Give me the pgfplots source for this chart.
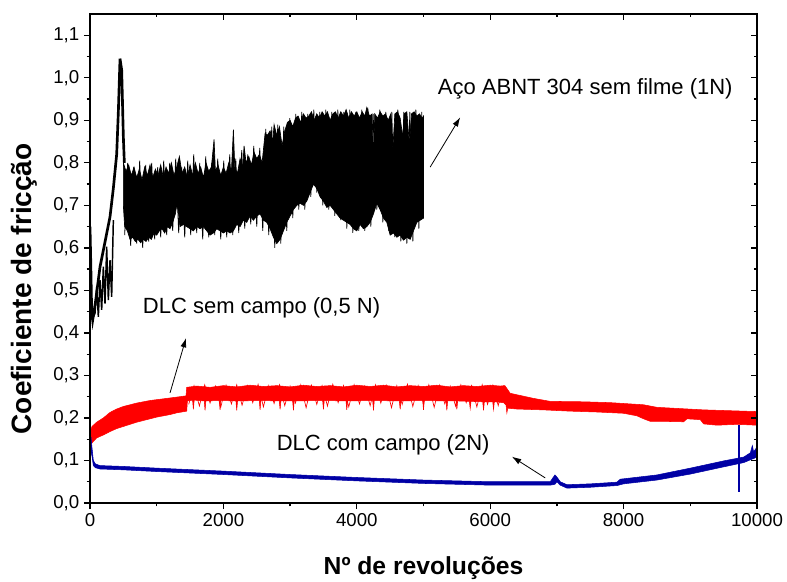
\documentclass[border=0pt]{standalone}
\usepackage{fontspec}
\setmainfont{Liberation Sans}
\usepackage{pgfplots}
\pgfplotsset{compat=1.18}
\usetikzlibrary{arrows.meta}
\definecolor{dlcred}{RGB}{255,0,0}
\definecolor{dlcblue}{RGB}{0,0,165}

\pgfplotsset{
  frame/.style={
    width=500.25pt, height=366.75pt, scale only axis,
    xmin=0, xmax=10000, ymin=0, ymax=1.15,
    scaled x ticks=false, scaled y ticks=false,
    xtick={0,2000,4000,6000,8000,10000},
    ytick={0,0.1,0.2,0.3,0.4,0.5,0.6,0.7,0.8,0.9,1.0,1.1},
    minor x tick num=1, minor y tick num=1,
    axis line style={line width=1.2pt},
    every tick/.style={black, line width=1pt},
    major tick length=4.5pt, minor tick length=2.5pt,
  },
}

\begin{document}
\begin{tikzpicture}
\useasboundingbox (-67.5pt,-58.5pt) rectangle (522.75pt,377.25pt);

\begin{axis}[frame,
    tick align=outside,
    xtick pos=left, ytick pos=left,
    ticklabel style={font=\fontsize{14}{16}\selectfont},
    /pgf/number format/assume math mode=true,
    xticklabel style={/pgf/number format/1000 sep={}},
    yticklabel style={/pgf/number format/.cd, fixed, fixed zerofill, precision=1, use comma},
    xlabel={Nº de revoluções},
    ylabel={Coeficiente de fricção},
    xlabel style={font=\fontsize{18.5}{21}\selectfont\bfseries, at={(axis description cs:0.5,-0.133)}, anchor=center},
    ylabel style={font=\fontsize{21}{24}\selectfont\bfseries, at={(axis description cs:-0.099,0.438)}, anchor=center},
]
% aço sem filme: subida inicial
\addplot[black, line width=2pt] coordinates {
(0,0.65)(12,0.56)(25,0.45)(40,0.43)(80,0.47)(150,0.555)(220,0.61)(300,0.673)(350,0.74)(400,0.82)(425,0.92)(450,1.045)(475,1.018)(500,0.861)(515,0.80)};
\addplot[black, line width=1.1pt] coordinates {
(30,0.43)(75,0.446)(100,0.508)(125,0.438)(150,0.524)(175,0.454)(200,0.556)(225,0.469)(250,0.603)(275,0.477)(300,0.571)(325,0.485)(350,0.665)};
% aço sem filme: faixa de oscilação
\addplot[black, fill=black, line width=0.5pt] coordinates {
(500,0.80)(540,0.78)(580,0.795)(620,0.77)(660,0.79)(700,0.765)(740,0.785)(780,0.76)(820,0.79)(860,0.77)(900,0.795)(940,0.765)(980,0.785)(1020,0.77)(1060,0.795)(1100,0.765)(1140,0.79)(1180,0.775)(1220,0.80)(1260,0.77)(1300,0.79)(1340,0.815)(1380,0.775)(1420,0.79)(1460,0.765)(1500,0.795)(1540,0.77)(1580,0.80)(1620,0.775)(1660,0.79)(1700,0.765)(1740,0.80)(1780,0.78)(1820,0.79)(1860,0.855)(1880,0.78)(1920,0.795)(1960,0.77)(2000,0.79)(2040,0.775)(2080,0.80)(2120,0.78)(2150,0.878)(2170,0.79)(2210,0.775)(2250,0.81)(2290,0.79)(2310,0.84)(2340,0.80)(2380,0.815)(2420,0.795)(2460,0.825)(2500,0.81)(2540,0.82)(2580,0.80)(2625,0.869)(2660,0.865)(2700,0.875)(2740,0.85)(2760,0.89)(2800,0.865)(2840,0.885)(2880,0.84)(2920,0.875)(2960,0.895)(3000,0.90)(3040,0.885)(3080,0.905)(3120,0.91)(3160,0.895)(3200,0.915)(3240,0.905)(3280,0.91)(3320,0.92)(3360,0.90)(3400,0.915)(3440,0.905)(3480,0.92)(3520,0.91)(3560,0.92)(3600,0.90)(3640,0.915)(3680,0.92)(3720,0.905)(3760,0.92)(3800,0.91)(3840,0.925)(3880,0.905)(3920,0.92)(3960,0.91)(4000,0.92)(4040,0.905)(4080,0.92)(4120,0.91)(4150,0.93)(4190,0.91)(4230,0.915)(4250,0.80)(4270,0.915)(4310,0.905)(4350,0.92)(4390,0.91)(4430,0.915)(4470,0.90)(4510,0.915)(4540,0.83)(4570,0.915)(4610,0.92)(4650,0.905)(4690,0.86)(4710,0.915)(4750,0.92)(4790,0.84)(4820,0.915)(4860,0.92)(4900,0.91)(4940,0.915)(4980,0.905)(5000,0.91)
(5000,0.67)(4950,0.665)(4900,0.66)(4850,0.64)(4800,0.62)(4750,0.625)(4700,0.618)(4650,0.63)(4600,0.625)(4550,0.635)(4500,0.63)(4450,0.66)(4400,0.67)(4350,0.69)(4300,0.705)(4250,0.68)(4200,0.66)(4150,0.65)(4100,0.645)(4050,0.655)(4000,0.64)(3950,0.645)(3900,0.655)(3850,0.66)(3800,0.665)(3750,0.67)(3700,0.68)(3650,0.69)(3600,0.70)(3550,0.695)(3500,0.71)(3450,0.72)(3400,0.74)(3350,0.75)(3300,0.73)(3250,0.71)(3200,0.70)(3150,0.705)(3100,0.70)(3050,0.69)(3000,0.675)(2950,0.66)(2900,0.64)(2850,0.62)(2800,0.61)(2750,0.625)(2700,0.645)(2650,0.66)(2600,0.665)(2550,0.68)(2500,0.675)(2450,0.665)(2400,0.675)(2350,0.66)(2300,0.665)(2250,0.65)(2200,0.655)(2150,0.64)(2100,0.635)(2050,0.64)(2000,0.635)(1950,0.64)(1900,0.645)(1850,0.635)(1800,0.63)(1750,0.64)(1700,0.65)(1650,0.645)(1600,0.65)(1550,0.64)(1500,0.645)(1450,0.65)(1400,0.655)(1350,0.65)(1320,0.69)(1300,0.70)(1280,0.68)(1240,0.66)(1200,0.645)(1160,0.65)(1120,0.635)(1080,0.645)(1040,0.64)(1000,0.63)(960,0.635)(920,0.62)(880,0.625)(840,0.615)(800,0.62)(760,0.612)(720,0.62)(680,0.615)(640,0.625)(600,0.62)(560,0.64)(520,0.65)(500,0.70)
} -- cycle;
% picos finos da faixa
\addplot[black, line width=0.6pt] coordinates {
(520,0.63)(565,0.80)(610,0.605)(655,0.79)(700,0.61)(745,0.805)(790,0.60)(835,0.795)(880,0.615)(925,0.80)(970,0.62)(1015,0.79)(1060,0.625)(1105,0.805)(1150,0.63)(1195,0.80)(1240,0.64)(1285,0.81)(1330,0.635)(1375,0.79)(1420,0.625)(1465,0.805)(1510,0.63)(1555,0.82)(1600,0.635)(1645,0.80)(1690,0.62)(1735,0.815)(1780,0.625)(1825,0.80)(1870,0.63)(1915,0.81)(1960,0.62)(2005,0.805)(2050,0.625)(2095,0.82)(2140,0.63)(2185,0.81)(2230,0.635)(2275,0.83)(2320,0.645)(2365,0.82)(2410,0.655)(2455,0.84)(2500,0.65)(2545,0.835)(2590,0.64)(2635,0.88)(2680,0.63)(2725,0.885)(2770,0.60)(2815,0.89)(2860,0.61)(2905,0.885)(2950,0.64)(2995,0.905)(3040,0.67)(3085,0.915)(3130,0.69)(3175,0.92)(3220,0.69)(3265,0.915)(3310,0.72)(3355,0.925)(3400,0.73)(3445,0.92)(3490,0.70)(3535,0.925)(3580,0.69)(3625,0.92)(3670,0.675)(3715,0.925)(3760,0.665)(3805,0.92)(3850,0.645)(3895,0.925)(3940,0.635)(3985,0.92)(4030,0.64)(4075,0.925)(4120,0.64)(4165,0.93)(4210,0.65)(4255,0.915)(4300,0.69)(4345,0.925)(4390,0.66)(4435,0.92)(4480,0.64)(4525,0.92)(4570,0.625)(4615,0.925)(4660,0.615)(4705,0.92)(4750,0.61)(4795,0.92)(4840,0.615)(4885,0.925)(4930,0.645)(4975,0.92)};
% DLC sem campo
\addplot[dlcred, fill=dlcred, line width=0.4pt] coordinates {
(0,0.165)(30,0.18)(100,0.19)(200,0.20)(300,0.213)(400,0.221)(500,0.227)(600,0.231)(700,0.235)(800,0.238)(900,0.241)(1000,0.243)(1100,0.245)(1200,0.247)(1300,0.249)(1440,0.252)(1450,0.272)(1600,0.275)(1800,0.272)(2000,0.276)(2200,0.273)(2400,0.277)(2600,0.274)(2800,0.276)(3000,0.273)(3200,0.277)(3400,0.274)(3600,0.276)(3800,0.273)(4000,0.277)(4200,0.274)(4400,0.277)(4600,0.273)(4800,0.276)(5000,0.274)(5200,0.277)(5400,0.273)(5600,0.276)(5800,0.274)(6000,0.277)(6150,0.275)(6220,0.276)(6300,0.258)(6650,0.246)(6900,0.239)(7400,0.238)(7800,0.236)(8300,0.231)(8500,0.225)(9200,0.219)(9600,0.217)(10000,0.215)
(10000,0.183)(9700,0.185)(9400,0.183)(9200,0.186)(9150,0.196)(8950,0.198)(8900,0.191)(8600,0.192)(8400,0.192)(8300,0.198)(8200,0.205)(8000,0.211)(7600,0.214)(7200,0.216)(6800,0.219)(6400,0.221)(6262,0.223)(6250,0.212)(6238,0.230)(6200,0.236)(6062,0.238)(6050,0.220)(6038,0.238)(5912,0.238)(5900,0.218)(5888,0.238)(5712,0.239)(5700,0.222)(5688,0.239)(5512,0.24)(5500,0.220)(5488,0.24)(5362,0.24)(5350,0.218)(5338,0.24)(5012,0.241)(5000,0.219)(4988,0.241)(4662,0.24)(4650,0.220)(4638,0.24)(4262,0.241)(4250,0.218)(4238,0.241)(3862,0.24)(3850,0.219)(3838,0.24)(3512,0.241)(3500,0.220)(3488,0.241)(3062,0.24)(3050,0.218)(3038,0.24)(2862,0.24)(2850,0.22)(2838,0.24)(2562,0.241)(2550,0.219)(2538,0.241)(2212,0.24)(2200,0.218)(2188,0.24)(1962,0.241)(1950,0.219)(1938,0.241)(1737,0.24)(1725,0.218)(1713,0.24)(1562,0.242)(1550,0.22)(1538,0.242)(1460,0.24)(1450,0.216)(1300,0.212)(1200,0.208)(1100,0.205)(1000,0.202)(900,0.198)(800,0.194)(700,0.19)(600,0.185)(500,0.18)(400,0.175)(300,0.168)(200,0.16)(100,0.153)(50,0.145)(0,0.135)
} -- cycle;
\addplot[dlcred, line width=0.5pt] coordinates {
(1480,0.232)(1560,0.276)(1640,0.228)(1720,0.278)(1800,0.235)(1880,0.275)(1960,0.225)(2040,0.277)(2120,0.233)(2200,0.278)(2280,0.23)(2360,0.276)(2440,0.236)(2520,0.279)(2600,0.226)(2680,0.276)(2760,0.234)(2840,0.278)(2920,0.229)(3000,0.275)(3080,0.235)(3160,0.278)(3240,0.224)(3320,0.277)(3400,0.232)(3480,0.276)(3560,0.228)(3640,0.279)(3720,0.236)(3800,0.276)(3880,0.226)(3960,0.278)(4040,0.233)(4120,0.275)(4200,0.229)(4280,0.278)(4360,0.235)(4440,0.277)(4520,0.224)(4600,0.276)(4680,0.232)(4760,0.279)(4840,0.227)(4920,0.276)(5000,0.234)(5080,0.278)(5160,0.225)(5240,0.277)(5320,0.233)(5400,0.275)(5480,0.228)(5560,0.278)(5640,0.236)(5720,0.276)(5800,0.226)(5880,0.278)(5960,0.232)(6040,0.277)(6120,0.229)(6200,0.276)};
% DLC com campo
\addplot[dlcblue, fill=dlcblue, line width=0.4pt] coordinates {
(0,0.13)(15,0.155)(30,0.13)(50,0.10)(80,0.092)(150,0.088)(500,0.086)(1000,0.082)(2000,0.075)(3000,0.067)(4000,0.060)(5000,0.054)(6000,0.050)(6900,0.050)(6970,0.066)(7000,0.061)(7050,0.050)(7150,0.043)(7500,0.045)(7900,0.049)(7950,0.056)(8500,0.066)(9000,0.082)(9500,0.099)(9800,0.108)(9900,0.118)(9930,0.135)(9950,0.12)(10000,0.132)
(10000,0.108)(9800,0.095)(9500,0.085)(9000,0.068)(8500,0.054)(8000,0.045)(7900,0.041)(7500,0.037)(7150,0.035)(7050,0.042)(7000,0.050)(6970,0.044)(6900,0.042)(6000,0.042)(5000,0.046)(4000,0.052)(3000,0.059)(2000,0.067)(1000,0.074)(500,0.078)(150,0.080)(80,0.083)(50,0.088)(30,0.11)(15,0.12)(0,0.115)
} -- cycle;
\addplot[dlcblue, line width=0.8pt] coordinates {(9730,0.183)(9730,0.027)};

\begin{scope}[font=\fontsize{16.5}{19}\selectfont]
\node at (axis cs:7425,0.975) {Aço ABNT 304 sem filme (1N)};
\node at (axis cs:2572,0.458) {DLC sem campo (0,5 N)};
\node at (axis cs:4395,0.136) {DLC com campo (2N)};
\end{scope}
\draw[-{Latex[length=7pt,width=4.5pt]}, line width=0.6pt] (axis cs:5100,0.79) -- (axis cs:5550,0.907);
\draw[-{Latex[length=7pt,width=4.5pt]}, line width=0.6pt] (axis cs:1200,0.259) -- (axis cs:1440,0.388);
\draw[-{Latex[length=7pt,width=4.5pt]}, line width=0.6pt] (axis cs:6825,0.059) -- (axis cs:6325,0.109);
\end{axis}

\begin{axis}[frame,
    tick align=inside,
    xtick pos=right, ytick pos=right,
    xticklabels={}, yticklabels={},
]
\end{axis}
\end{tikzpicture}
\end{document}
